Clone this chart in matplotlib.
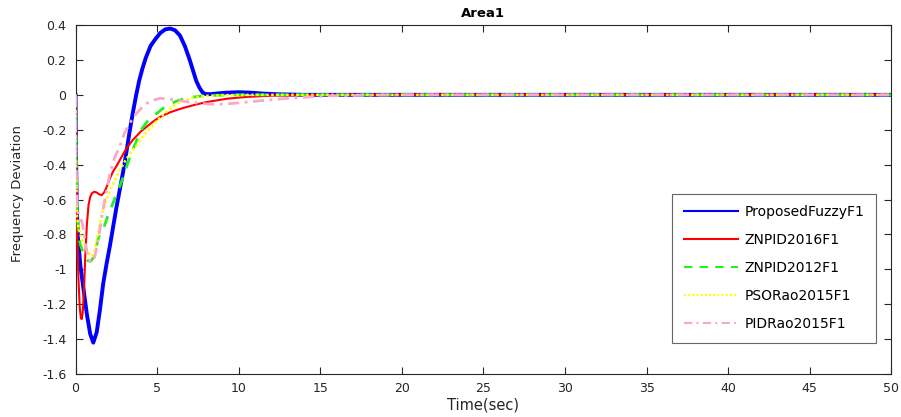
import matplotlib
matplotlib.use("Agg")
import matplotlib.pyplot as plt
from matplotlib.ticker import FuncFormatter

plt.rcParams['font.family'] = ['DejaVu Sans']

# ---- data ----
t_blue = [0, 0.03, 0.08, 0.15, 0.3, 0.5, 0.7, 0.9, 1.09, 1.3, 1.5, 1.7, 1.9, 2.1, 2.3, 2.5, 2.7, 2.9,
          3.1, 3.3, 3.5, 3.7, 3.9, 4.1, 4.3, 4.6, 4.9, 5.2, 5.5, 5.8, 6.1, 6.4, 6.7, 7.0, 7.2, 7.4,
          7.6, 7.8, 8.0, 8.3, 8.7, 9.2, 10.0, 10.8, 11.5, 12.5, 14, 20, 30, 40, 50]
v_blue = [0, -0.35, -0.65, -0.82, -0.98, -1.12, -1.26, -1.37, -1.42, -1.36, -1.23, -1.08, -0.97, -0.87,
          -0.76, -0.65, -0.55, -0.45, -0.34, -0.22, -0.11, -0.01, 0.08, 0.15, 0.21, 0.28, 0.32, 0.355,
          0.375, 0.38, 0.37, 0.34, 0.28, 0.20, 0.14, 0.08, 0.04, 0.012, 0.004, 0.004, 0.008, 0.012,
          0.015, 0.012, 0.007, 0.003, 0.0, 0.0, 0.0, 0.0, 0.0]

t_red = [0, 0.04, 0.1, 0.18, 0.26, 0.33, 0.38, 0.44, 0.52, 0.6, 0.7, 0.8, 0.9, 1.0, 1.15, 1.3, 1.45,
         1.6, 1.75, 1.9, 2.1, 2.3, 2.5, 2.8, 3.1, 3.5, 4.0, 4.4, 4.8, 5.2, 5.8, 6.5, 7.2, 8.0, 9.3,
         10.5, 12, 14, 20, 30, 40, 50]
v_red = [0, -0.45, -0.8, -1.05, -1.22, -1.28, -1.285, -1.25, -1.12, -0.92, -0.74, -0.63, -0.585, -0.565,
         -0.555, -0.56, -0.57, -0.575, -0.56, -0.53, -0.48, -0.44, -0.41, -0.36, -0.31, -0.26, -0.21,
         -0.18, -0.15, -0.125, -0.1, -0.078, -0.06, -0.042, -0.022, -0.012, -0.005, -0.001, 0.0, 0.0,
         0.0, 0.0]

t_green = [0, 0.04, 0.1, 0.2, 0.3, 0.45, 0.6, 0.75, 0.9, 1.05, 1.2, 1.4, 1.7, 2.0, 2.3, 2.6, 2.85,
           3.1, 3.4, 3.75, 4.1, 4.5, 5.0, 5.4, 5.8, 6.3, 6.8, 7.2, 7.8, 8.5, 10, 12, 20, 30, 40, 50]
v_green = [0, -0.4, -0.65, -0.82, -0.86, -0.9, -0.93, -0.95, -0.955, -0.94, -0.9, -0.82, -0.77, -0.69,
           -0.62, -0.55, -0.49, -0.42, -0.34, -0.26, -0.19, -0.14, -0.105, -0.075, -0.052, -0.032,
           -0.02, -0.013, -0.006, -0.003, 0.0, 0.0, 0.0, 0.0, 0.0, 0.0]

t_yellow = [0, 0.04, 0.1, 0.2, 0.3, 0.45, 0.6, 0.75, 0.9, 1.0, 1.1, 1.25, 1.4, 1.6, 1.9, 2.2, 2.45,
            2.73, 3.0, 3.4, 3.75, 4.2, 4.77, 5.3, 6.0, 6.6, 7.2, 8.0, 9, 11, 20, 30, 40, 50]
v_yellow = [0, -0.45, -0.7, -0.77, -0.8, -0.84, -0.87, -0.9, -0.92, -0.925, -0.91, -0.86, -0.78, -0.69,
            -0.6, -0.53, -0.48, -0.43, -0.385, -0.33, -0.29, -0.23, -0.17, -0.12, -0.063, -0.035,
            -0.015, -0.006, -0.002, 0.0, 0.0, 0.0, 0.0, 0.0]

t_pink = [0, 0.04, 0.1, 0.18, 0.25, 0.32, 0.4, 0.5, 0.6, 0.7, 0.8, 0.9, 1.0, 1.1, 1.2, 1.35, 1.5,
          1.65, 1.8, 2.0, 2.12, 2.4, 2.73, 3.0, 3.34, 3.7, 4.16, 4.6, 5.18, 5.8, 6.5, 7.2, 8.0, 8.8,
          9.8, 11.3, 13, 15.4, 18, 20, 30, 40, 50]
v_pink = [0, -0.4, -0.62, -0.69, -0.7, -0.71, -0.73, -0.78, -0.84, -0.9, -0.94, -0.955, -0.96, -0.95,
          -0.92, -0.85, -0.77, -0.68, -0.6, -0.5, -0.446, -0.36, -0.29, -0.22, -0.16, -0.11, -0.063,
          -0.035, -0.02, -0.025, -0.035, -0.044, -0.052, -0.054, -0.048, -0.034, -0.02, -0.006, -0.002,
          0.0, 0.0, 0.0, 0.0]

labels = ['ProposedFuzzyF1', 'ZNPID2016F1', 'ZNPID2012F1', 'PSORao2015F1', 'PIDRao2015F1']
x_ticks = [0, 5, 10, 15, 20, 25, 30, 35, 40, 45, 50]
y_ticks = [-1.6, -1.4, -1.2, -1, -0.8, -0.6, -0.4, -0.2, 0, 0.2, 0.4]

fig = plt.figure(figsize=(9.01, 4.17), dpi=100)
ax = fig.add_axes([0.0838, 0.103, 0.9055, 0.837])

ax.plot(t_blue, v_blue, color='#0000ff', lw=2.8, label=labels[0], zorder=2)
ax.plot(t_red, v_red, color='#ff0000', lw=1.5, label=labels[1], zorder=3)
ax.plot(t_green, v_green, color='#22ee22', lw=2.0, ls=(0, (4, 3.5)), label=labels[2], zorder=4)
ax.plot(t_yellow, v_yellow, color='#ffff00', lw=1.8, ls=(0, (1, 1)), label=labels[3], zorder=5)
ax.plot(t_pink, v_pink, color='#f8a8c8', lw=2.0, ls=(0, (4, 2, 1, 2)), label=labels[4], zorder=6)

ax.set_xlim(0, 50)
ax.set_ylim(-1.6, 0.4)
ax.set_xticks(x_ticks)
ax.set_yticks(y_ticks)

def fmt(v, pos):
    return '%g' % round(v, 2)
ax.xaxis.set_major_formatter(FuncFormatter(fmt))
ax.yaxis.set_major_formatter(FuncFormatter(fmt))

ax.tick_params(direction='in', top=True, right=True, length=5, width=0.8,
               labelsize=9, colors='#262626', labelcolor='#262626')
ax.tick_params(axis='y', pad=6.5)
ax.tick_params(axis='x', pad=5.5)
for s in ax.spines.values():
    s.set_linewidth(0.8)
    s.set_color('#262626')

ax.set_title('Area1', fontsize=9.5, fontweight='bold', pad=6)
ax.set_xlabel('Time(sec)', fontsize=10.5, color='#262626')
ax.xaxis.set_label_coords(0.5, -0.066)
ax.set_ylabel('Frequency Deviation', fontsize=9.5, color='#262626')
ax.yaxis.set_label_coords(-0.063, 0.517)

leg = ax.legend(loc='lower right', bbox_to_anchor=(0.99, 0.07), fontsize=10,
                frameon=True, fancybox=False, edgecolor='#404040', borderpad=0.85,
                labelspacing=1.0, handlelength=3.9, handletextpad=0.45)
leg.get_frame().set_linewidth(0.8)
for ln in leg.get_lines():
    ln.set_linewidth(1.5)

fig.savefig('out.png', dpi=100)
